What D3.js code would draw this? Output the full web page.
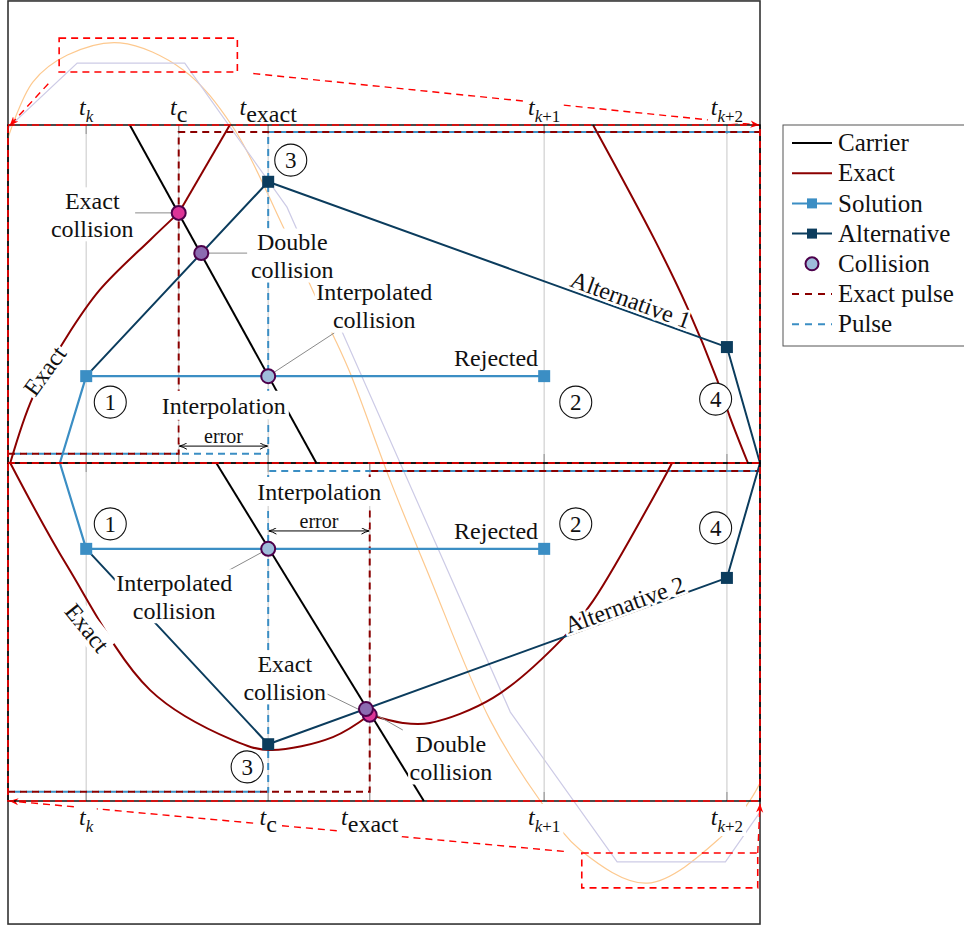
<!DOCTYPE html>
<html>
<head>
<meta charset="utf-8">
<script src="https://cdn.jsdelivr.net/npm/d3@7"></script>
<style>
  html, body { margin: 0; padding: 0; background: #fff; }
  svg { display: block; font-family: "Liberation Serif", "DejaVu Serif", serif; }
</style>
</head>
<body>
<svg id="chart" width="964" height="926"></svg>
<script>
// ---------------------------------------------------------------
// Data: time in arbitrary units (0..10), level in arbitrary units.
// Upper panel covers levels 10..20, lower panel covers 0..10.
// ---------------------------------------------------------------
const topTicks = [1.04, 2.27, 3.46, 7.13, 9.56];
const bottomTicks = [1.04, 3.46, 4.81, 7.13, 9.56];
const tickSubs = ["k", "c", "exact", "k+1", "k+2"];

const carrierTop = [[1.62, 20], [4.10, 10]];
const carrierBottom = [[2.77, 10], [5.53, 0]];

const exactTopRise = [[0.03, 10.00], [0.33, 11.95], [0.78, 13.73], [1.22, 15.12], [1.89, 16.60], [2.27, 17.40]];
const exactTopAfter = [[2.27, 17.40], [2.95, 20.00]];
const exactTopFall = [[7.78, 20.00], [8.60, 16.60], [9.03, 14.62], [9.43, 12.46], [9.60, 11.36], [9.84, 10.00]];
const exactBottomDip = [[0.03, 10.00], [0.78, 6.98], [1.89, 3.28], [2.99, 1.80], [3.48, 1.51], [4.32, 1.89], [4.81, 2.55]];
const exactBottomAfter = [[4.81, 2.55], [5.25, 2.31], [5.61, 2.31], [6.45, 3.05], [7.38, 4.82], [7.78, 5.92], [8.71, 9.50], [8.83, 10.00]];

const solutionTop = [[1.04, 12.57], [7.13, 12.57]];
const solutionLink = [[1.04, 12.57], [0.69, 10.00], [1.04, 7.46]];
const solutionBottom = [[1.04, 7.46], [7.13, 7.46]];
const solutionSteps = [[1.04, 12.57], [7.13, 12.57], [1.04, 7.46], [7.13, 7.46]];

const alternativePath = [[1.04, 12.57], [3.46, 18.32], [9.56, 13.43], [10, 10], [9.56, 6.60], [3.46, 1.68], [1.04, 7.46]];
const alternativeSteps = [[3.46, 18.32], [9.56, 13.43], [9.56, 6.60], [3.46, 1.68]];

const collisions = [
  { t: 2.27, v: 17.40, kind: "exact" },
  { t: 2.57, v: 16.21, kind: "double" },
  { t: 3.46, v: 12.57, kind: "interp" },
  { t: 3.46, v: 7.46, kind: "interp" },
  { t: 4.81, v: 2.55, kind: "exact" },
  { t: 4.76, v: 2.72, kind: "double" }
];

const pulseTop = [[0, 10.27], [3.46, 10.27], [3.46, 19.79], [10, 19.79]];
const exactPulseTop = [[0, 10.27], [2.27, 10.27], [2.27, 19.79], [10, 19.79]];
const pulseBottom = [[0, 0.27], [3.46, 0.27], [3.46, 9.76], [10, 9.76]];
const exactPulseBottom = [[0, 0.27], [4.81, 0.27], [4.81, 9.76], [10, 9.76]];

// overview trace and its sampled version, drawn faintly across the whole figure
const overviewTrace = [[0, 19.62], [0.33, 21.27], [0.79, 22.07], [1.49, 22.43], [2.33, 21.63], [2.99, 19.94],
  [3.66, 16.98], [4.28, 13.99], [4.55, 12.66], [5.08, 9.50], [5.57, 6.83], [6.41, 2.40], [7.07, 0.03],
  [7.61, -1.45], [8.50, -2.43], [9.47, -1.09], [9.87, 0.03], [10, 0.53]];
const overviewSampled = [[0, 19.91], [0.92, 21.83], [2.35, 21.83], [3.71, 17.57], [6.68, 2.63], [8.10, -1.80], [9.54, -1.80], [10, -0.33]];

const figureLevels = [-3.64, 23.67];
const zoomBoxTop = { t0: 0.68, t1: 3.05, v0: 21.57, v1: 22.57 };
const zoomBoxBottom = { t0: 7.63, t1: 9.97, v0: -2.57, v1: -1.54 };

const errorSpans = [{ from: 2.27, to: 3.46, v: 10.50 }, { from: 3.46, to: 4.81, v: 7.99 }];

const notes = [
  { lines: ["Exact", "collision"], at: [1.12, 17.34] },
  { lines: ["Double", "collision"], at: [3.78, 16.12] },
  { lines: ["Interpolated", "collision"], at: [4.87, 14.64] },
  { lines: ["Rejected"], at: [6.49, 13.11] },
  { lines: ["Interpolation"], at: [2.87, 11.69] },
  { lines: ["Interpolation"], at: [4.14, 9.14] },
  { lines: ["Rejected"], at: [6.49, 7.99] },
  { lines: ["Interpolated", "collision"], at: [2.21, 6.04] },
  { lines: ["Exact", "collision"], at: [3.68, 3.64] },
  { lines: ["Double", "collision"], at: [5.89, 1.27] }
];
const curveNotes = [
  { text: "Exact", at: [0.49, 12.72], angle: -54 },
  { text: "Exact", at: [1.05, 5.12], angle: 51 }
];
const pathNotes = [
  { text: "Alternative 1", at: [8.28, 14.82], angle: 19.9 },
  { text: "Alternative 2", at: [8.20, 5.80], angle: -19.9 }
];
const leaders = [
  [[1.69, 17.40], [2.27, 17.40]],
  [[3.18, 16.21], [2.57, 16.21]],
  [[4.34, 13.85], [3.46, 12.57]],
  [[2.94, 6.83], [3.46, 7.46]],
  [[4.24, 3.17], [4.81, 2.55]],
  [[5.25, 2.10], [4.76, 2.72]]
];
const stepMarks = [
  { n: "1", at: [1.36, 11.80] }, { n: "2", at: [7.55, 11.80] }, { n: "3", at: [3.76, 18.96] }, { n: "4", at: [9.41, 11.89] },
  { n: "1", at: [1.36, 8.20] }, { n: "2", at: [7.55, 8.20] }, { n: "3", at: [3.18, 1.01] }, { n: "4", at: [9.41, 8.08] }
];

const legendNames = ["Carrier", "Exact", "Solution", "Alternative", "Collision", "Exact pulse", "Pulse"];

// ---------------------------------------------------------------
const col = {
  carrier: "#000000", exact: "#8b0000", solution: "#3b8ec4", alternative: "#0b3c5d",
  highlight: "#ff0000", grid: "#d4d4d4", tick: "#a0a0a0",
  trace: "#fdc98f", sampled: "#cdcbe6",
  exactFill: "#dd3497", doubleFill: "#8c6bb1", interpFill: "#9ebcda", ring: "#4d004b"
};
const collisionFill = { exact: col.exactFill, double: col.doubleFill, interp: col.interpFill };

const svg = d3.select("#chart");
const x = d3.scaleLinear().domain([0, 10]).range([8, 760]);
const y = d3.scaleLinear().domain([0, 20]).range([801, 125]);
const straight = d3.line().x(d => x(d[0])).y(d => y(d[1]));
const smooth = d3.line().x(d => x(d[0])).y(d => y(d[1])).curve(d3.curveCatmullRom.alpha(0.5));

const defs = svg.append("defs");
defs.append("marker").attr("id", "arrowRed").attr("viewBox", "0 0 10 10")
  .attr("refX", 9).attr("refY", 5).attr("markerWidth", 9).attr("markerHeight", 9)
  .attr("markerUnits", "userSpaceOnUse").attr("orient", "auto")
  .append("path").attr("d", "M0,1 L10,5 L0,9 L3,5 Z").attr("fill", col.highlight);
defs.append("marker").attr("id", "arrowBlk").attr("viewBox", "0 0 10 10")
  .attr("refX", 9).attr("refY", 5).attr("markerWidth", 9).attr("markerHeight", 9)
  .attr("markerUnits", "userSpaceOnUse").attr("orient", "auto-start-reverse")
  .append("path").attr("d", "M1,1.5 Q5,4 9.5,5 Q5,6 1,8.5").attr("fill", "none")
  .attr("stroke", "#000").attr("stroke-width", 1.1);
defs.append("clipPath").attr("id", "figClip").append("rect")
  .attr("x", x(0)).attr("y", y(figureLevels[1]))
  .attr("width", x(10) - x(0)).attr("height", y(figureLevels[0]) - y(figureLevels[1]));

// outer frame
svg.append("rect").attr("x", x(0)).attr("y", y(figureLevels[1]))
  .attr("width", x(10) - x(0)).attr("height", y(figureLevels[0]) - y(figureLevels[1]))
  .attr("fill", "none").attr("stroke", "#333").attr("stroke-width", 1.6);

// faint overview traces
const faint = svg.append("g").attr("clip-path", "url(#figClip)").attr("fill", "none");
faint.append("path").attr("d", smooth(overviewTrace)).attr("stroke", col.trace).attr("stroke-width", 1.2);
faint.append("path").attr("d", straight(overviewSampled)).attr("stroke", col.sampled).attr("stroke-width", 1.2);

// grid lines and ticks for both panels
function panelGrid(ticks, lo, hi) {
  const g = svg.append("g");
  ticks.forEach(t => {
    g.append("line").attr("x1", x(t)).attr("x2", x(t)).attr("y1", y(lo)).attr("y2", y(hi))
      .attr("stroke", col.grid).attr("stroke-width", 1.3);
    g.append("line").attr("x1", x(t)).attr("x2", x(t)).attr("y1", y(lo)).attr("y2", y(lo) - 9)
      .attr("stroke", col.tick).attr("stroke-width", 1.3);
    g.append("line").attr("x1", x(t)).attr("x2", x(t)).attr("y1", y(hi)).attr("y2", y(hi) + 9)
      .attr("stroke", col.tick).attr("stroke-width", 1.3);
  });
}
panelGrid(topTicks, 10, 20);
panelGrid(bottomTicks, 0, 10);

// pulses
const pulses = svg.append("g").attr("fill", "none").attr("stroke-width", 2);
[pulseTop, pulseBottom].forEach(p => pulses.append("path").attr("d", straight(p))
  .attr("stroke", col.solution).attr("stroke-dasharray", "7,5").attr("stroke-dashoffset", 6));
[exactPulseTop, exactPulseBottom].forEach(p => pulses.append("path").attr("d", straight(p))
  .attr("stroke", col.exact).attr("stroke-dasharray", "7,5"));

// exact trajectory
const curves = svg.append("g").attr("fill", "none").attr("stroke-linejoin", "round");
[exactTopRise, exactTopFall, exactBottomDip, exactBottomAfter].forEach(c =>
  curves.append("path").attr("d", smooth(c)).attr("stroke", col.exact).attr("stroke-width", 2));
curves.append("path").attr("d", straight(exactTopAfter)).attr("stroke", col.exact).attr("stroke-width", 2);

// carrier
[carrierTop, carrierBottom].forEach(c =>
  curves.append("path").attr("d", straight(c)).attr("stroke", col.carrier).attr("stroke-width", 2));

// alternative and solution paths
curves.append("path").attr("d", straight(alternativePath)).attr("stroke", col.alternative).attr("stroke-width", 2);
[solutionTop, solutionLink, solutionBottom].forEach(c =>
  curves.append("path").attr("d", straight(c)).attr("stroke", col.solution).attr("stroke-width", 2.2));

// zoom boxes and connectors to panel corners
const zoomG = svg.append("g").attr("fill", "none");
[zoomBoxTop, zoomBoxBottom].forEach(b => zoomG.append("rect")
  .attr("x", x(b.t0)).attr("y", y(b.v1)).attr("width", x(b.t1) - x(b.t0)).attr("height", y(b.v0) - y(b.v1))
  .attr("stroke", col.highlight).attr("stroke-width", 1.6).attr("stroke-dasharray", "7,5"));
function connector(from, to, shorten) {
  const x1 = x(from[0]), y1 = y(from[1]), x2 = x(to[0]), y2 = y(to[1]);
  const len = Math.hypot(x2 - x1, y2 - y1);
  const sx = x1 + (x2 - x1) * shorten / len, sy = y1 + (y2 - y1) * shorten / len;
  zoomG.append("line").attr("x1", sx).attr("y1", sy).attr("x2", x2).attr("y2", y2)
    .attr("stroke", col.highlight).attr("stroke-width", 1.4).attr("stroke-dasharray", "7,5")
    .attr("marker-end", "url(#arrowRed)");
}
connector([zoomBoxTop.t0, zoomBoxTop.v0], [0.03, 20], 16);
connector([zoomBoxTop.t1, zoomBoxTop.v0], [9.98, 20], 16);
connector([zoomBoxBottom.t0, zoomBoxBottom.v1], [0.03, 0], 18);
connector([zoomBoxBottom.t1, zoomBoxBottom.v1], [10, -0.1], 0);

// error arrows
errorSpans.forEach(s => {
  svg.append("line").attr("x1", x(s.from) + 1).attr("x2", x(s.to) - 1).attr("y1", y(s.v)).attr("y2", y(s.v))
    .attr("stroke", "#000").attr("stroke-width", 1)
    .attr("marker-start", "url(#arrowBlk)").attr("marker-end", "url(#arrowBlk)");
});

// leader lines
leaders.forEach(l => svg.append("line")
  .attr("x1", x(l[0][0])).attr("y1", y(l[0][1])).attr("x2", x(l[1][0])).attr("y2", y(l[1][1]))
  .attr("stroke", "#8a8a8a").attr("stroke-width", 1));

// labels on white boxes
const labels = svg.append("g");
function boxed(lines, at, opt = {}) {
  const size = opt.size || 24, lh = 28, angle = opt.angle || 0, pad = opt.pad ?? 1.5;
  const g = labels.append("g").attr("transform", `translate(${x(at[0])},${y(at[1])}) rotate(${angle})`);
  const bg = g.append("rect").attr("fill", "#fff");
  const t = g.append("text").attr("text-anchor", "middle").attr("font-size", size).attr("fill", "#111");
  lines.forEach((s, i) => t.append("tspan").attr("x", 0).attr("y", (i - (lines.length - 1) / 2) * lh)
    .attr("dy", "0.33em").text(s));
  const b = t.node().getBBox();
  bg.attr("x", b.x - pad).attr("y", b.y - pad + 1).attr("width", b.width + 2 * pad).attr("height", b.height + 2 * pad - 3);
  return g;
}
notes.forEach(n => boxed(n.lines, n.at, { pad: n.lines[0] === "Interpolation" ? 3 : 1.5 }));
curveNotes.forEach(n => boxed([n.text], n.at, { angle: n.angle }));

// white box behind the "error" captions spanning the arrow
errorSpans.forEach(s => {
  labels.append("rect").attr("x", x(s.from) + 1).attr("width", x(s.to) - x(s.from) - 2)
    .attr("y", y(s.v) - 27).attr("height", 24).attr("fill", "#fff");
  labels.append("text").attr("x", (x(s.from) + x(s.to)) / 2).attr("y", y(s.v) - 10).attr("dy", "0.33em")
    .attr("text-anchor", "middle").attr("font-size", 20).attr("fill", "#111").text("error");
});

// path captions with halo
pathNotes.forEach(n => labels.append("text")
  .attr("transform", `translate(${x(n.at[0])},${y(n.at[1])}) rotate(${n.angle})`)
  .attr("text-anchor", "middle").attr("dy", "0.33em").attr("font-size", 24).attr("fill", "#111")
  .attr("stroke", "#fff").attr("stroke-width", 5).attr("paint-order", "stroke").text(n.text));

// tick labels (white box trimmed so it never reaches the panel edge)
function tickLabel(t, sub, baseY, above) {
  const g = labels.append("g");
  const bg = g.append("rect").attr("fill", "#fff");
  const tx = g.append("text").attr("x", x(t)).attr("y", baseY).attr("text-anchor", "middle")
    .attr("font-size", 24).attr("fill", "#111");
  tx.append("tspan").attr("font-style", "italic").text("t");
  if (sub === "c" || sub === "exact") {
    tx.append("tspan").attr("dy", 7).text(sub);
  } else {
    tx.append("tspan").attr("dy", 7).attr("font-size", 17).attr("font-style", "italic").text("k");
    if (sub.length > 1) tx.append("tspan").attr("font-size", 17).text(sub.slice(1));
  }
  const b = tx.node().getBBox();
  let top = b.y, bot = b.y + b.height;
  if (above) bot = Math.min(bot, y(20) - 2); else top = Math.max(top, y(0) + 2);
  bg.attr("x", b.x - 3).attr("y", top).attr("width", b.width + 6).attr("height", bot - top);
}
topTicks.forEach((t, i) => tickLabel(t, tickSubs[i], y(20) - 10, true));
bottomTicks.forEach((t, i) => tickLabel(t, tickSubs[i], y(0) + 24, false));

// step numbers
stepMarks.forEach(s => {
  const g = labels.append("g").attr("transform", `translate(${x(s.at[0])},${y(s.at[1])})`);
  g.append("circle").attr("r", 16).attr("fill", "#fff").attr("stroke", "#111").attr("stroke-width", 1.1);
  g.append("text").attr("text-anchor", "middle").attr("dy", "0.35em").attr("font-size", 23).attr("fill", "#111").text(s.n);
});

// panel borders with dashed highlight
const borders = svg.append("g").attr("fill", "none");
[[10, 20], [0, 10]].forEach(([lo, hi]) => {
  borders.append("rect").attr("x", x(0)).attr("y", y(hi)).attr("width", x(10) - x(0)).attr("height", y(lo) - y(hi))
    .attr("stroke", "#000").attr("stroke-width", 1.4);
  borders.append("rect").attr("x", x(0)).attr("y", y(hi)).attr("width", x(10) - x(0)).attr("height", y(lo) - y(hi))
    .attr("stroke", col.highlight).attr("stroke-width", 1.6).attr("stroke-dasharray", "7,5");
});

// markers
const marks = svg.append("g");
alternativeSteps.forEach(p => marks.append("rect").attr("x", x(p[0]) - 6).attr("y", y(p[1]) - 6)
  .attr("width", 12).attr("height", 12).attr("fill", col.alternative));
solutionSteps.forEach(p => marks.append("rect").attr("x", x(p[0]) - 6).attr("y", y(p[1]) - 6)
  .attr("width", 12).attr("height", 12).attr("fill", col.solution));
collisions.forEach(c => marks.append("circle").attr("cx", x(c.t)).attr("cy", y(c.v)).attr("r", 7)
  .attr("fill", collisionFill[c.kind]).attr("stroke", col.ring).attr("stroke-width", 2));

// legend
const lg = svg.append("g").attr("transform", "translate(783,125)");
lg.append("rect").attr("x", 0).attr("y", 0).attr("width", 200).attr("height", 221)
  .attr("fill", "#fff").attr("stroke", "#555").attr("stroke-width", 1);
legendNames.forEach((name, i) => {
  const ry = 18 + i * 30.2;
  const row = lg.append("g").attr("transform", `translate(0,${ry})`);
  const seg = (stroke, dash, w) => row.append("line").attr("x1", 9).attr("x2", 49).attr("y1", 0).attr("y2", 0)
    .attr("stroke", stroke).attr("stroke-width", w || 2).attr("stroke-dasharray", dash || null);
  if (name === "Carrier") seg(col.carrier);
  if (name === "Exact") seg(col.exact);
  if (name === "Solution") { seg(col.solution); row.append("rect").attr("x", 24).attr("y", -5).attr("width", 10).attr("height", 10).attr("fill", col.solution); }
  if (name === "Alternative") { seg(col.alternative); row.append("rect").attr("x", 24).attr("y", -5).attr("width", 10).attr("height", 10).attr("fill", col.alternative); }
  if (name === "Collision") row.append("circle").attr("cx", 29).attr("cy", 0).attr("r", 6.5)
    .attr("fill", col.interpFill).attr("stroke", col.ring).attr("stroke-width", 2);
  if (name === "Exact pulse") seg(col.exact, "7,6");
  if (name === "Pulse") seg(col.solution, "7,6");
  row.append("text").attr("x", 55).attr("y", 0).attr("dy", "0.33em").attr("font-size", 25).attr("fill", "#111").text(name);
});
</script>
</body>
</html>
